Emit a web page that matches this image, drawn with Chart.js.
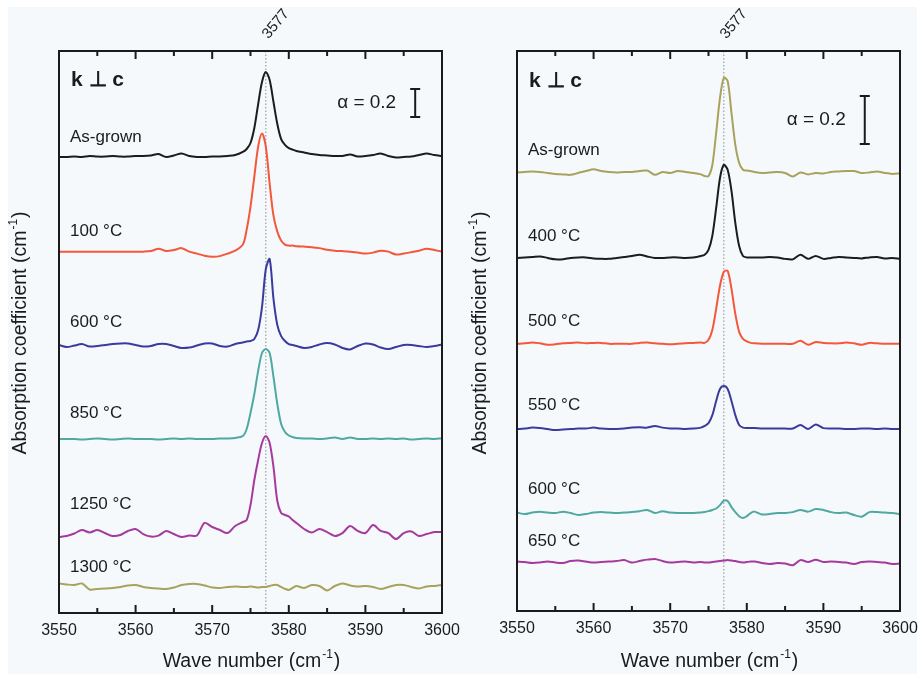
<!DOCTYPE html>
<html lang="en">
<head>
  <meta charset="UTF-8">
  <title>Absorption spectra k ⊥ c</title>
  <script src="https://cdn.jsdelivr.net/npm/chart.js"></script>
  <style>
    body {
      margin: 0;
      padding: 0;
      background-color: #ffffff;
    }
    #sheet {
      position: absolute;
      left: 8px;
      top: 7px;
      width: 909px;
      height: 667px;
      background-color: #f5f9fc;
    }
    canvas {
      position: absolute;
      top: 0;
    }
    #leftChart { left: 0; }
    #rightChart { left: 460px; }
  </style>
</head>
<body>
  <div id="sheet"></div>
  <canvas id="leftChart" width="460" height="674"></canvas>
  <canvas id="rightChart" width="460" height="674"></canvas>

  <script>
    // wave numbers (cm-1), finer near the 3577 band
    const waveNumbers = [
      3550, 3551, 3552, 3553, 3554, 3555, 3556, 3557, 3558, 3559,
      3560, 3561, 3562, 3563, 3564, 3565, 3566, 3567, 3568, 3569,
      3570, 3571, 3572, 3573, 3574,
      3574.5, 3575, 3575.5, 3576, 3576.5, 3577, 3577.5, 3578, 3578.5, 3579, 3579.5, 3580, 3580.5,
      3581, 3582, 3583, 3584, 3585, 3586, 3587, 3588, 3589, 3590,
      3591, 3592, 3593, 3594, 3595, 3596, 3597, 3598, 3599, 3600
    ];
    const xTicks = [3550, 3560, 3570, 3580, 3590, 3600];
    const bandPosition = 3577;

    // left panel: absorption (cm-1) above each trace's own baseline
    const leftNames = ['As-grown', '100 °C', '600 °C', '850 °C', '1250 °C', '1300 °C'];
    const leftOffsets = [3.264, 2.581, 1.914, 1.243, 0.557, 0.186];

    const asGrownL = [
      -0.007, -0.007, -0.004, -0.007, 0, -0.004, -0.004, 0, -0.004, -0.004,
      0, 0, 0.004, 0.014, -0.007, 0.004, 0.018, 0, -0.007, -0.007,
      -0.004, -0.004, 0, 0.007, 0.029,
      0.05, 0.093, 0.2, 0.371, 0.529, 0.6, 0.543, 0.386, 0.229, 0.121, 0.079, 0.057, 0.046,
      0.036, 0.025, 0.014, 0.007, 0.004, 0, 0, 0.011, -0.004, 0,
      0.007, 0.018, 0, -0.011, -0.007, -0.004, 0.007, 0.018, 0.007, 0
    ];
    const t100L = [
      0, 0, 0, 0, 0, 0, 0, 0, 0, 0,
      0, 0, 0.004, 0.021, 0.004, 0.011, 0.025, 0, -0.014, -0.029,
      -0.036, -0.032, -0.014, 0.007, 0.05,
      0.157, 0.321, 0.536, 0.75, 0.843, 0.75, 0.486, 0.257, 0.143, 0.079, 0.05, 0.043, 0.043,
      0.039, 0.036, 0.032, 0.025, 0.014, 0.007, 0.004, 0, -0.007, -0.014,
      -0.007, 0.007, 0, -0.021, -0.014, -0.004, 0.007, 0.021, 0.011, 0
    ];
    const t600L = [
      0, -0.014, -0.004, 0.007, -0.011, -0.007, 0, 0.007, 0.011, 0.011,
      0, -0.011, -0.007, 0.007, 0.007, -0.007, -0.021, -0.018, -0.004, 0.011,
      0.011, -0.007, -0.011, 0.007, 0.018,
      0.025, 0.029, 0.043, 0.107, 0.271, 0.543, 0.614, 0.329, 0.143, 0.064, 0.029, 0.007, 0,
      -0.007, -0.021, -0.014, 0.004, 0.014, 0.004, -0.021, -0.032, -0.007, 0.011,
      0.004, -0.018, -0.029, -0.014, 0, 0, -0.007, -0.014, -0.007, 0.004
    ];
    const t850L = [
      0, 0, 0, -0.004, 0, 0.004, 0, -0.004, 0, 0.004,
      0, 0, 0, -0.004, 0, 0.004, 0, 0.004, 0, 0,
      0, 0.004, 0.004, 0.007, 0.021,
      0.071, 0.186, 0.321, 0.486, 0.614, 0.643, 0.614, 0.443, 0.25, 0.107, 0.05, 0.025, 0.014,
      0.007, 0.004, 0.004, 0, 0.004, 0.011, 0, 0.011, 0, 0,
      0.004, 0, 0.004, 0, 0.004, -0.004, 0, 0.004, 0, 0.004
    ];
    const t1250L = [
      -0.014, -0.007, 0.011, 0.036, 0.018, 0.036, 0.014, -0.007, 0, 0.029,
      0.043, 0.007, -0.011, -0.004, 0.029, 0.007, -0.014, -0.004, -0.004, 0.086,
      0.057, 0.036, 0.014, 0.064, 0.093,
      0.107, 0.214, 0.393, 0.536, 0.657, 0.707, 0.657, 0.486, 0.243, 0.157, 0.143, 0.132, 0.107,
      0.086, 0.043, 0.018, 0.043, 0.021, -0.007, 0.014, 0.064, 0.029, 0.014,
      0.071, 0.029, 0.014, -0.029, 0.014, 0.025, -0.007, 0.007, 0.021, 0.021
    ];
    const t1300L = [
      0.025, 0.018, 0.014, 0.025, -0.018, -0.014, -0.011, -0.007, 0, 0.011,
      0.014, 0, -0.007, -0.011, -0.014, -0.004, 0.014, 0.021, 0.021, 0.011,
      -0.004, -0.007, 0, 0.004, 0,
      0, 0.004, 0, -0.004, 0, 0, 0.007, 0.014, 0.014, 0, -0.014, -0.021, -0.007,
      0.007, -0.007, 0.014, 0.007, -0.025, 0.007, 0.025, 0.011, 0.004, 0.007,
      0, -0.014, 0, 0.014, 0.014, 0, -0.011, 0.004, 0.007, 0.014
    ];

    // right panel
    const rightNames = ['As-grown', '400 °C', '500 °C', '550 °C', '600 °C', '650 °C'];
    const rightOffsets = [1.825, 1.471, 1.113, 0.758, 0.408, 0.204];

    const asGrownR = [
      0.002, 0.004, 0.006, 0.004, 0, -0.004, -0.006, -0.008, 0, 0.008,
      0.015, 0.008, 0.004, 0.002, 0.004, 0.004, 0.008, 0.01, -0.008, 0.004,
      0, 0.008, 0.004, 0, -0.006,
      -0.013, -0.013, 0.033, 0.167, 0.313, 0.396, 0.383, 0.25, 0.117, 0.042, 0.013, 0.01, 0.008,
      0.004, 0, 0.002, 0.004, 0, -0.015, 0.002, -0.006, 0, -0.002,
      0.004, 0.006, 0.008, 0.008, 0, 0.002, 0.006, 0, -0.004, -0.002
    ];
    const t400R = [
      0, 0.002, 0.004, 0.006, 0, -0.006, -0.006, 0, 0.002, 0.002,
      -0.002, -0.004, -0.004, 0, 0.004, 0.008, 0.013, 0.006, 0, 0,
      0.002, 0.002, 0, 0.002, 0.008,
      0.013, 0.033, 0.092, 0.208, 0.333, 0.388, 0.367, 0.279, 0.146, 0.05, 0.008, 0.002, 0.002,
      0.002, 0.002, 0.004, 0.002, -0.004, -0.006, 0.013, -0.004, 0.008, -0.004,
      0, 0.004, 0.002, 0, -0.002, 0.002, 0.004, -0.002, 0, -0.004
    ];
    const t500R = [
      0, 0.002, 0.006, 0.002, -0.004, -0.002, 0.002, 0.004, 0.006, 0.002,
      0.004, 0.004, 0, 0, 0, 0, 0.004, 0.006, 0.002, 0,
      -0.002, 0, 0.002, 0.004, 0.006,
      0.004, 0.017, 0.058, 0.146, 0.242, 0.3, 0.304, 0.229, 0.125, 0.05, 0.021, 0.01, 0.004,
      0.002, 0, 0, 0, 0, 0, 0.013, -0.004, 0.008, 0.004,
      0.002, 0.002, 0.006, 0.002, -0.004, 0.004, 0.002, 0, 0, 0
    ];
    const t550R = [
      0, 0.002, 0.006, 0.004, 0, -0.004, -0.002, 0, 0.002, 0.002,
      0.006, 0.002, 0, 0, 0.002, 0.006, 0.008, 0.006, 0.013, 0.006,
      0.002, 0.002, 0, 0.002, 0.006,
      0.013, 0.025, 0.058, 0.117, 0.167, 0.179, 0.167, 0.117, 0.058, 0.017, 0.006, 0.004, 0.004,
      0.004, 0.002, 0.002, 0.002, 0.002, 0.002, 0.017, 0, 0.019, 0.004,
      0.002, 0.002, 0, 0, 0.002, 0.002, 0, 0.002, 0, 0
    ];
    const t600R = [
      0.002, -0.004, 0.002, 0.006, 0.002, 0, 0.006, 0, -0.008, -0.004,
      0.002, 0.004, 0.002, 0, 0.002, 0.004, 0.008, 0.013, 0, 0.008,
      0.002, 0, 0, 0, 0.002,
      0.004, 0.008, 0.013, 0.019, 0.033, 0.052, 0.05, 0.025, 0.004, -0.013, -0.021, -0.013, 0,
      0.006, -0.006, -0.004, 0, 0, 0.004, 0.013, 0.006, 0.017, 0.013,
      0.004, 0, 0.002, -0.008, -0.015, 0.004, 0.004, 0.002, 0, -0.004
    ];
    const t650R = [
      0.002, 0, -0.004, -0.002, 0.002, -0.002, -0.004, 0.004, 0.006, 0.002,
      -0.002, 0, 0.002, 0.004, 0.008, -0.002, 0.004, 0.01, 0.013, 0.004,
      -0.002, 0, 0.002, -0.002, 0,
      -0.002, -0.002, 0, 0.002, 0.004, 0.006, 0.008, 0.006, 0.004, 0, -0.002, 0, 0.002,
      0.002, -0.004, -0.008, -0.004, -0.006, -0.013, 0.008, 0, 0.01, 0,
      0.002, 0, -0.002, -0.008, 0, 0.002, 0, -0.002, -0.008, -0.006
    ];

    const FONT = "'Liberation Sans', Arial, Helvetica, sans-serif";
    const INK = '#1b1b1b';
    const colors = {
      black: '#1c1c1c',
      red: '#f4573b',
      blue: '#3b3b9e',
      teal: '#4fa9a1',
      magenta: '#a53a9d',
      olive: '#a8a25c'
    };

    // text with a small raised part, e.g. cm^-1
    function drawSup(ctx, before, sup, after, x, y, size) {
      ctx.font = size + 'px ' + FONT;
      const w1 = ctx.measureText(before).width;
      const w3 = ctx.measureText(after).width;
      ctx.font = Math.round(size * 0.6) + 'px ' + FONT;
      const w2 = ctx.measureText(sup).width;
      let start = x - (w1 + w2 + w3) / 2;
      ctx.textAlign = 'left';
      ctx.textBaseline = 'middle';
      ctx.font = size + 'px ' + FONT;
      ctx.fillText(before, start, y);
      ctx.font = Math.round(size * 0.6) + 'px ' + FONT;
      ctx.fillText(sup, start + w1 + 1, y - size * 0.4);
      ctx.font = size + 'px ' + FONT;
      ctx.fillText(after, start + w1 + w2 + 2, y);
    }

    function makeDecor(panel) {
      return {
        id: 'decor',
        beforeDatasetsDraw(chart) {
          const { ctx, chartArea } = chart;
          const x = chart.scales.x.getPixelForValue(bandPosition);
          ctx.save();
          ctx.strokeStyle = '#8c8c8c';
          ctx.lineWidth = 1;
          ctx.setLineDash([1.5, 2]);
          ctx.beginPath();
          ctx.moveTo(x, chartArea.top);
          ctx.lineTo(x, chartArea.bottom);
          ctx.stroke();
          ctx.restore();
        },
        afterDraw(chart) {
          const { ctx, chartArea } = chart;
          const xs = chart.scales.x;
          const ys = chart.scales.y;
          ctx.save();
          // frame
          ctx.strokeStyle = INK;
          ctx.lineWidth = 2;
          ctx.strokeRect(chartArea.left, chartArea.top, chartArea.right - chartArea.left, chartArea.bottom - chartArea.top);
          // inward ticks top and bottom
          for (let v = 3555; v < 3600; v += 5) {
            const px = xs.getPixelForValue(v);
            const len = v % 10 === 0 ? 8 : 5;
            ctx.beginPath();
            ctx.moveTo(px, chartArea.bottom);
            ctx.lineTo(px, chartArea.bottom - len);
            ctx.moveTo(px, chartArea.top);
            ctx.lineTo(px, chartArea.top + len);
            ctx.stroke();
          }
          ctx.fillStyle = INK;
          // band position label
          const bx = xs.getPixelForValue(bandPosition);
          ctx.save();
          ctx.translate(bx + 10, chartArea.top - 27);
          ctx.rotate(-Math.PI * 0.28);
          ctx.font = '15px ' + FONT;
          ctx.textAlign = 'center';
          ctx.textBaseline = 'middle';
          ctx.fillText(String(bandPosition), 0, 0);
          ctx.restore();
          // k ⊥ c
          ctx.font = 'bold 21px ' + FONT;
          ctx.textAlign = 'left';
          ctx.textBaseline = 'middle';
          ctx.fillText('k \u22A5 c', chartArea.left + 12, panel.kY);
          // trace names
          ctx.font = '17px ' + FONT;
          panel.names.forEach((name, i) => {
            const y = ys.getPixelForValue(panel.offsets[i]) - panel.nameLift[i];
            ctx.fillText(name, chartArea.left + 11, y);
          });
          // scale bar alpha = 0.2
          const barX = xs.getPixelForValue(panel.barAt);
          const y0 = ys.getPixelForValue(panel.barBase);
          const y1 = ys.getPixelForValue(panel.barBase + 0.2);
          ctx.lineWidth = 2;
          ctx.beginPath();
          ctx.moveTo(barX, y0); ctx.lineTo(barX, y1);
          ctx.moveTo(barX - 5, y0); ctx.lineTo(barX + 5, y0);
          ctx.moveTo(barX - 5, y1); ctx.lineTo(barX + 5, y1);
          ctx.stroke();
          ctx.font = '19px ' + FONT;
          ctx.textAlign = 'right';
          ctx.fillText('\u03B1 = 0.2', barX - 19, (y0 + y1) / 2);
          // axis titles
          drawSup(ctx, 'Wave number (cm', '-1', ')', (chartArea.left + chartArea.right) / 2, 662, 19.5);
          ctx.save();
          ctx.translate(21, 334);
          ctx.rotate(-Math.PI / 2);
          drawSup(ctx, 'Absorption coefficient (cm', '-1', ')', 0, 0, 19.5);
          ctx.restore();
          ctx.restore();
        }
      };
    }

    function buildChart(canvasId, names, offsets, series, lineColors, yMax, padding, axisHeight, panel) {
      const datasets = series.map((vals, i) => ({
        label: names[i],
        data: waveNumbers.map((x, j) => ({ x: x, y: offsets[i] + vals[j] })),
        borderColor: lineColors[i],
        borderWidth: 2,
        pointRadius: 0,
        tension: 0.3,
        fill: false
      }));
      return new Chart(document.getElementById(canvasId), {
        type: 'line',
        data: { datasets: datasets },
        options: {
          responsive: false,
          animation: false,
          layout: { padding: padding },
          plugins: { legend: { display: false }, tooltip: { enabled: false } },
          scales: {
            x: {
              type: 'linear',
              min: 3550,
              max: 3600,
              afterBuildTicks(scale) { scale.ticks = xTicks.map(v => ({ value: v })); },
              afterFit(scale) {
                scale.height = axisHeight;
                scale.paddingLeft = 0;
                scale.paddingRight = 0;
              },
              ticks: {
                callback: v => String(v),
                font: { size: 16, family: FONT },
                color: INK,
                padding: 8,
                maxRotation: 0,
                autoSkip: false
              },
              grid: { display: false, drawTicks: false },
              border: { display: false }
            },
            y: { display: false, min: 0, max: yMax }
          }
        },
        plugins: [makeDecor(panel)]
      });
    }

    buildChart('leftChart', leftNames, leftOffsets,
      [asGrownL, t100L, t600L, t850L, t1250L, t1300L],
      [colors.black, colors.red, colors.blue, colors.teal, colors.magenta, colors.olive],
      4.014, { left: 59, right: 18, top: 51, bottom: 0 }, 61,
      { names: leftNames, offsets: leftOffsets, nameLift: [19, 20, 23, 26, 31, 20], kY: 80, barAt: 3596.5, barBase: 3.543 });

    buildChart('rightChart', rightNames, rightOffsets,
      [asGrownR, t400R, t500R, t550R, t600R, t650R],
      [colors.olive, colors.black, colors.red, colors.blue, colors.teal, colors.magenta],
      2.333, { left: 57, right: 20, top: 51, bottom: 0 }, 63,
      { names: rightNames, offsets: rightOffsets, nameLift: [23, 22, 23, 24, 24, 21], kY: 81, barAt: 3595.4, barBase: 1.946 });
  </script>
</body>
</html>
